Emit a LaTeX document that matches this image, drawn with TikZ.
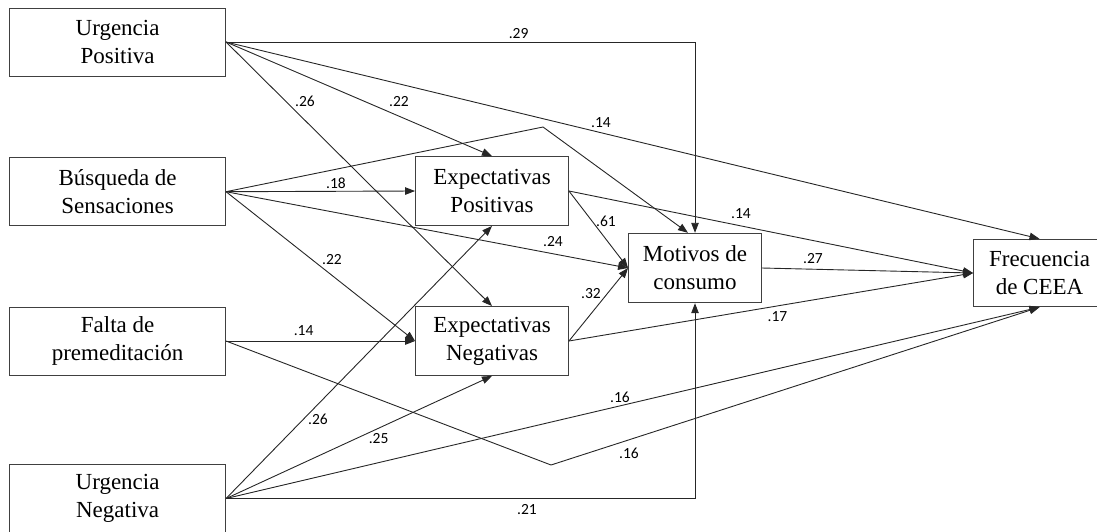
\documentclass[tikz,border=0pt]{standalone}
\usepackage{fontspec}
\setmainfont{Liberation Serif}
\newfontfamily\lblfont{Carlito}
\usetikzlibrary{arrows.meta,calc}
\begin{document}
\begin{tikzpicture}[x=1pt,y=-1pt,
  box/.style={draw=black!75,line width=0.9pt,rectangle,align=center,inner sep=0pt,
    font=\fontsize{23}{28}\selectfont,text=black},
  src/.style={box,minimum width=216pt,minimum height=68pt},
  mid/.style={box,minimum width=153pt,minimum height=69pt},
  conn/.style={draw=black!85,line width=0.9pt,-{Triangle[length=10pt,width=7.5pt]}},
  lbl/.style={font=\lblfont\fontsize{15.5}{17}\selectfont,inner sep=0pt,text=black}]
\useasboundingbox (0,0) rectangle (1097,531);
\begin{scope}
\clip (0,0) rectangle (1097,531);
\node[src] (UP) at (117.6,42) {Urgencia\\Positiva};
\node[src] (BS) at (117.6,191.7) {Búsqueda de\\Sensaciones};
\node[src] (FP) at (117.6,341) {Falta de\\premeditación};
\node[src,minimum height=69pt] (UN) at (117.6,498.5) {Urgencia\\Negativa};
\node[mid] (EP) at (492,191) {Expectativas\\Positivas};
\node[mid] (EN) at (492,341) {Expectativas\\Negativas};
\node[box,minimum width=133pt,minimum height=69.5pt] (MC) at (695,268) {Motivos de\\consumo};
\node[box,minimum width=132pt,minimum height=67.5pt] (FC) at (1039.5,273) {Frecuencia\\de CEEA};

\coordinate (k1) at (543,127);
\coordinate (k2) at (551,465);

% Urgencia Positiva
\draw[conn] (UP.east) -| (MC.north);
\draw[conn] (UP.east) -- (FC.north);
\draw[conn] (UP.east) -- (EP.north);
\draw[conn] (UP.east) -- (EN.north);
% Busqueda de Sensaciones
\draw[conn] (BS.east) -- (EP.west);
\draw[conn] (BS.east) -- (k1) -- ($(MC.north)+(-7,0)$);
\draw[conn] (BS.east) -- (MC.west);
\draw[conn] (BS.east) -- (EN.west);
% Expectativas
\draw[conn] (EP.east) -- (MC.west);
\draw[conn] (EP.east) -- (FC.west);
\draw[conn] (EN.east) -- (MC.west);
\draw[conn] (EN.east) -- (FC.west);
\draw[conn] (MC.east) -- (FC.west);
% Falta de premeditacion
\draw[conn] (FP.east) -- (EN.west);
\draw[conn] (FP.east) -- (k2) -- (FC.south);
% Urgencia Negativa
\draw[conn] (UN.east) -- (EP.south);
\draw[conn] (UN.east) -- (EN.south);
\draw[conn] (UN.east) -- (FC.south);
\draw[conn] (UN.east) -| (MC.south);

% labels
\node[lbl] (l1) at (518.6,34) {.29};
\node[lbl] (l2) at (601,123) {.14};
\node[lbl] (l3) at (399,102) {.22};
\node[lbl] (l4) at (305,101) {.26};
\node[lbl] (l5) at (336,183.5) {.18};
\node[lbl] (l6) at (553,242) {.24};
\node[lbl] (l7) at (332,260) {.22};
\node[lbl] (l8) at (606,221) {.61};
\node[lbl] (l9) at (741,214) {.14};
\node[lbl] (l10) at (813,258.5) {.27};
\node[lbl] (l11) at (591,294) {.32};
\node[lbl] (l12) at (777.5,317) {.17};
\node[lbl] (l13) at (303.6,331) {.14};
\node[lbl] (l14) at (629,453) {.16};
\node[lbl] (l15) at (318,419) {.26};
\node[lbl] (l16) at (378.6,439) {.25};
\node[lbl] (l17) at (620,397) {.16};
\node[lbl] (l18) at (527,510) {.21};
\end{scope}
\end{tikzpicture}
\end{document}
